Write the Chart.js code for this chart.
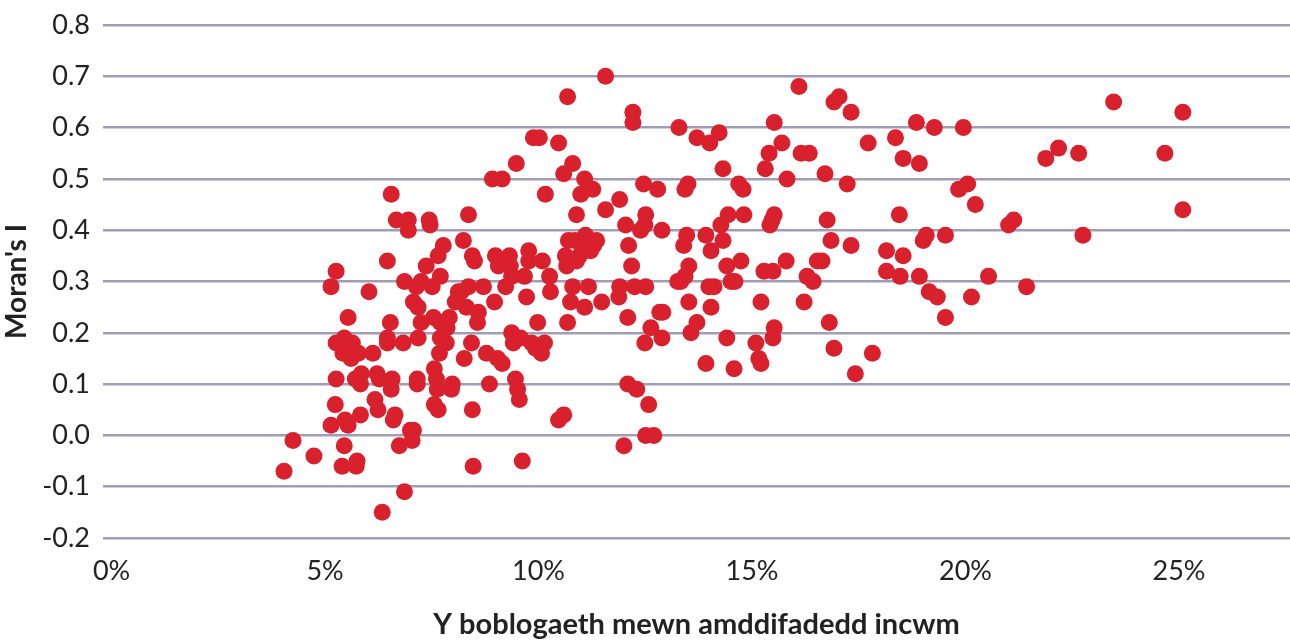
<!DOCTYPE html>
<html>
<head>
<meta charset="utf-8">
<script src="https://cdn.jsdelivr.net/npm/chart.js@4.4.1/dist/chart.umd.min.js"></script>
<style>
  html, body { margin: 0; padding: 0; background: #fff; }
  #wrap { width: 1290px; height: 642px; position: relative; }
</style>
</head>
<body>
<div id="wrap"><canvas id="scatterChart"></canvas></div>
<script>
// Share of population in income deprivation (%), one value per point
const xValues = [
  4.04, 4.25, 4.74, 5.14, 5.26, 5.14, 5.24, 5.26, 5.26, 5.42, 5.45, 5.40, 5.45, 5.47, 5.54, 5.54,
  5.61, 5.64, 5.71, 5.73, 5.75, 5.78, 5.83, 5.85, 5.83, 6.03, 6.12, 6.17, 6.22, 6.24, 6.27, 6.34,
  6.46, 6.46, 6.46, 6.53, 6.55, 6.57, 6.55, 6.60, 6.64, 6.67, 6.74, 6.83, 6.86, 6.86, 6.95, 6.95,
  7.00, 7.04, 7.07, 7.07, 7.14, 7.16, 7.16, 7.18, 7.18, 7.25, 7.25, 7.37, 7.44, 7.46, 7.51, 7.54,
  7.56, 7.56, 7.61, 7.63, 7.65, 7.65, 7.68, 7.70, 7.70, 7.70, 7.77, 7.84, 7.86, 7.91, 7.98, 7.96,
  8.05, 8.12, 8.19, 8.24, 8.26, 8.31, 8.36, 8.36, 8.43, 8.45, 8.47, 8.45, 8.50, 8.57, 8.59, 8.71,
  8.78, 8.85, 8.92, 8.97, 8.99, 9.04, 9.06, 9.15, 9.15, 9.23, 9.32, 9.34, 9.37, 9.37, 9.41, 9.46,
  9.48, 9.51, 9.55, 9.58, 9.62, 9.67, 9.72, 9.77, 9.77, 9.84, 9.88, 9.93, 9.98, 10.02, 10.07, 10.09,
  10.14, 10.16, 10.26, 10.28, 10.47, 10.47, 10.59, 10.59, 10.63, 10.68, 10.66, 10.68, 10.70, 10.75, 10.80, 10.80,
  10.85, 10.89, 10.89, 10.96, 10.99, 11.03, 11.08, 11.08, 11.10, 11.15, 11.17, 11.22, 11.27, 11.29, 11.36, 11.48,
  11.57, 11.57, 11.88, 11.90, 11.90, 12.00, 12.04, 12.09, 12.09, 12.11, 12.18, 12.21, 12.21, 12.25, 12.30, 12.39,
  12.46, 12.51, 12.49, 12.49, 12.51, 12.51, 12.58, 12.63, 12.70, 12.79, 12.84, 12.89, 12.89, 12.91, 13.26, 13.29,
  13.33, 13.40, 13.43, 13.43, 13.47, 13.50, 13.52, 13.52, 13.57, 13.71, 13.71, 13.92, 13.92, 13.99, 14.01, 14.04,
  14.04, 14.11, 14.23, 14.27, 14.32, 14.32, 14.41, 14.41, 14.44, 14.51, 14.58, 14.60, 14.69, 14.74, 14.79, 14.81,
  15.09, 15.16, 15.21, 15.21, 15.28, 15.31, 15.40, 15.42, 15.47, 15.49, 15.49, 15.52, 15.52, 15.52, 15.70, 15.80,
  15.82, 16.10, 16.15, 16.22, 16.29, 16.34, 16.43, 16.53, 16.64, 16.71, 16.76, 16.81, 16.85, 16.92, 16.92, 17.04,
  17.23, 17.32, 17.32, 17.42, 17.72, 17.82, 18.15, 18.15, 18.36, 18.45, 18.47, 18.54, 18.54, 18.85, 18.92, 18.92,
  19.01, 19.08, 19.15, 19.27, 19.34, 19.53, 19.53, 19.84, 19.95, 20.05, 20.14, 20.23, 20.54, 21.01, 21.13, 21.43,
  21.88, 22.18, 22.65, 22.75, 23.47, 24.67, 25.09, 25.09
];

// Moran's I, same order as xValues
const yValues = [
  -0.07, -0.01, -0.04, 0.29, 0.32, 0.02, 0.06, 0.11, 0.18, 0.16, 0.19, -0.06, -0.02, 0.03, 0.02, 0.23,
  0.15, 0.18, 0.11, -0.06, -0.05, 0.16, 0.04, 0.12, 0.10, 0.28, 0.16, 0.07, 0.12, 0.05, 0.11, -0.15,
  0.34, 0.18, 0.19, 0.22, 0.09, 0.11, 0.47, 0.03, 0.04, 0.42, -0.02, 0.18, -0.11, 0.30, 0.42, 0.40,
  0.01, -0.01, 0.01, 0.26, 0.29, 0.10, 0.11, 0.25, 0.19, 0.30, 0.22, 0.33, 0.42, 0.41, 0.29, 0.23,
  0.06, 0.13, 0.11, 0.09, 0.05, 0.35, 0.16, 0.22, 0.19, 0.31, 0.37, 0.18, 0.21, 0.23, 0.10, 0.09,
  0.26, 0.28, 0.28, 0.38, 0.15, 0.25, 0.29, 0.43, 0.18, 0.35, -0.06, 0.05, 0.34, 0.22, 0.24, 0.29,
  0.16, 0.10, 0.50, 0.26, 0.35, 0.15, 0.33, 0.50, 0.14, 0.29, 0.35, 0.33, 0.31, 0.20, 0.18, 0.11,
  0.53, 0.09, 0.07, 0.19, -0.05, 0.31, 0.27, 0.34, 0.36, 0.18, 0.58, 0.17, 0.22, 0.58, 0.16, 0.34,
  0.18, 0.47, 0.31, 0.28, 0.57, 0.03, 0.04, 0.51, 0.35, 0.66, 0.33, 0.22, 0.38, 0.26, 0.53, 0.29,
  0.38, 0.34, 0.43, 0.35, 0.47, 0.36, 0.25, 0.50, 0.39, 0.37, 0.29, 0.36, 0.48, 0.37, 0.38, 0.26,
  0.70, 0.44, 0.27, 0.46, 0.29, -0.02, 0.41, 0.10, 0.23, 0.37, 0.33, 0.63, 0.61, 0.29, 0.09, 0.40,
  0.49, 0.43, 0.41, 0.18, 0.29, 0.00, 0.06, 0.21, 0.00, 0.48, 0.24, 0.40, 0.19, 0.24, 0.30, 0.60,
  0.30, 0.37, 0.31, 0.48, 0.39, 0.49, 0.26, 0.33, 0.20, 0.58, 0.22, 0.14, 0.39, 0.29, 0.57, 0.36,
  0.25, 0.29, 0.59, 0.41, 0.52, 0.38, 0.19, 0.33, 0.43, 0.30, 0.13, 0.30, 0.49, 0.34, 0.48, 0.43,
  0.18, 0.15, 0.14, 0.26, 0.32, 0.52, 0.55, 0.41, 0.42, 0.19, 0.32, 0.61, 0.21, 0.43, 0.57, 0.34,
  0.50, 0.68, 0.55, 0.26, 0.31, 0.55, 0.30, 0.34, 0.34, 0.51, 0.42, 0.22, 0.38, 0.65, 0.17, 0.66,
  0.49, 0.63, 0.37, 0.12, 0.57, 0.16, 0.36, 0.32, 0.58, 0.43, 0.31, 0.54, 0.35, 0.61, 0.53, 0.31,
  0.38, 0.39, 0.28, 0.60, 0.27, 0.39, 0.23, 0.48, 0.60, 0.49, 0.27, 0.45, 0.31, 0.41, 0.42, 0.29,
  0.54, 0.56, 0.55, 0.39, 0.65, 0.55, 0.63, 0.44
];

const xTicks = [0, 5, 10, 15, 20, 25];
const yTicks = [-0.2, -0.1, 0, 0.1, 0.2, 0.3, 0.4, 0.5, 0.6, 0.7, 0.8];

const points = xValues.map((x, i) => ({ x: x, y: yValues[i] }));

const gridColour = "#a19db9";
const fontFamily = "Lato, 'Open Sans', sans-serif";

// stop the point radius from adding padding round the chart area
const ScatterCtrl = Chart.registry.getController("scatter");
ScatterCtrl.prototype.getMaxOverflow = function () { return 0; };

const scatterData = {
  datasets: [
    {
      label: "Moran's I",
      data: points,
      backgroundColor: "#d9202d",
      borderWidth: 0,
      pointRadius: 8.5,
      pointHoverRadius: 8.5
    }
  ]
};

const scatterConfig = {
  type: "scatter",
  data: scatterData,
  options: {
    responsive: true,
    maintainAspectRatio: false,
    animation: false,
    layout: { padding: { top: 25, right: 0, left: 0, bottom: 0 } },
    plugins: {
      legend: { display: false },
      tooltip: { enabled: false }
    },
    scales: {
      x: {
        type: "linear",
        min: -0.2,
        max: 27.6,
        afterBuildTicks: scale => {
          scale.ticks = xTicks.map(v => ({ value: v }));
        },
        afterFit: scale => { scale.height = 104; },
        grid: { display: false, drawTicks: false },
        border: { display: false },
        ticks: {
          color: "#222",
          padding: 17,
          maxRotation: 0,
          font: { family: fontFamily, size: 27 },
          callback: v => v + "%"
        },
        title: {
          display: true,
          text: "Y boblogaeth mewn amddifadedd incwm",
          color: "#222",
          font: { family: fontFamily, size: 29, weight: "bold" },
          padding: { top: 14, bottom: 0 }
        }
      },
      y: {
        min: -0.2,
        max: 0.8,
        afterBuildTicks: scale => {
          scale.ticks = yTicks.map(v => ({ value: v }));
        },
        afterFit: scale => {
          scale.width = 103;
          scale.paddingTop = 0;
          scale.paddingBottom = 0;
        },
        grid: { color: gridColour, lineWidth: 2.5, drawTicks: false },
        border: { display: false },
        ticks: {
          color: "#222",
          padding: 13,
          font: { family: fontFamily, size: 27 },
          callback: v => v.toFixed(1)
        },
        title: {
          display: true,
          text: "Moran's I",
          color: "#222",
          font: { family: fontFamily, size: 28, weight: "bold" },
          padding: { top: 0, bottom: 4 }
        }
      }
    }
  }
};

const ctx = document.getElementById("scatterChart");
new Chart(ctx, scatterConfig);
</script>
</body>
</html>
